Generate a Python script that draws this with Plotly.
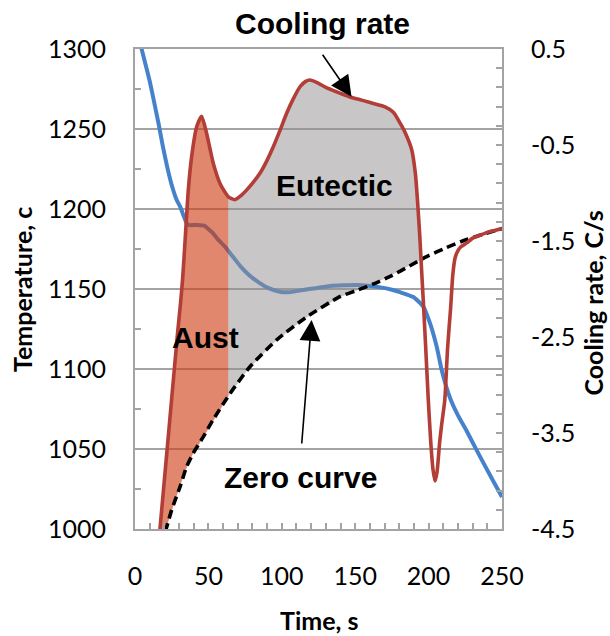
import numpy as np
import plotly.graph_objects as go

# ---------------- data ----------------
# Temperature curve (left axis, deg C)
temp_time = [3.5, 4.5, 7, 10, 13, 16, 19, 22, 25, 28.4, 31, 33, 35, 36.5, 42, 47.5, 50, 53,
             56, 61.3, 66, 72, 78, 85, 91, 98.5, 105, 114.4, 123, 132.9, 142, 151.4, 159,
             167.3, 175, 180.5, 189.6, 196.4, 201, 205.5, 209, 212, 215, 220, 225.5, 232,
             238.7, 244, 250]
temp_val = [1304, 1300, 1291, 1280, 1267, 1253.6, 1239, 1226, 1215, 1205.6, 1201, 1196,
            1191.5, 1190, 1190, 1189.5, 1187.5, 1185, 1181.5, 1176.5, 1171, 1164, 1158.5,
            1153.7, 1150.5, 1148.3, 1148, 1149.4, 1150.5, 1151.9, 1152.3, 1152.5, 1152,
            1151, 1149.5, 1148, 1145, 1139, 1128.5, 1114, 1099, 1089, 1081, 1071, 1062,
            1050.5, 1039, 1030, 1020]

# Cooling rate curve (right axis, C/s)
rate_time = [16.5, 17, 21, 25, 29, 31, 32.5, 34.1, 36.3, 38.6, 42, 45.4, 48.8, 53.3, 57.9,
             63.6, 68.1, 72, 76, 80.5, 85.1, 89.6, 94.2, 98.7, 103.3, 107.8, 112.4, 116,
             119.2, 124, 130, 138, 146, 155, 163, 170, 176, 180.5, 184, 188.5, 191, 192.4,
             194, 195.1, 196.3, 198, 199.8, 201.5, 203, 204.4, 205.8, 207.5, 209, 211, 213,
             215, 216.5, 218, 220, 222, 226, 230, 235, 240, 245, 250]
rate_val = [-4.58, -4.5, -3.82, -3.14, -2.46, -2.15, -1.88, -1.5, -0.97, -0.62, -0.31, -0.2,
            -0.38, -0.69, -0.9, -1.04, -1.07, -1.03, -0.97, -0.89, -0.795, -0.67, -0.518,
            -0.35, -0.17, -0.02, 0.107, 0.16, 0.177, 0.15, 0.1, 0.05, 0.003, -0.035, -0.07,
            -0.1, -0.16, -0.27, -0.37, -0.55, -0.8, -1.07, -1.45, -1.77, -2.1, -2.6, -3.16,
            -3.6, -3.88, -4.0, -3.9, -3.6, -3.4, -3.16, -2.6, -2.2, -1.85, -1.68, -1.6,
            -1.56, -1.52, -1.47, -1.44, -1.41, -1.39, -1.37]

# Zero curve (right axis, C/s)
zero_time = [20.5, 21.6, 25, 30.7, 35.2, 39.7, 46.5, 53.3, 64.7, 78.3, 96.5, 117, 139.6,
             150, 162, 175, 187, 199, 212, 225, 237, 250]
zero_val = [-4.53, -4.48, -4.3, -4.06, -3.85, -3.71, -3.54, -3.36, -3.09, -2.81, -2.53,
            -2.29, -2.08, -2.02, -1.95, -1.86, -1.76, -1.66, -1.57, -1.49, -1.43, -1.37]

# axis ticks
temp_ticks = [1000, 1050, 1100, 1150, 1200, 1250, 1300]
rate_ticks = [-4.5, -3.5, -2.5, -1.5, -0.5, 0.5]
rate_tick_text = ["-4.5", "-3.5", "-2.5", "-1.5", "-0.5", "0.5"]
time_ticks = [0, 50, 100, 150, 200, 250]

# region limits (s)
aust_start, aust_end = 17, 63.6
eut_start, eut_end = 63.6, 195.0

# ---------------- fill polygons derived from the curves ----------------
def region(t0, t1):
    g = np.linspace(t0, t1, 300)
    up = np.interp(g, rate_time, rate_val)
    lo = np.minimum(np.interp(g, zero_time, zero_val), up)
    return list(g) + list(g[::-1]), list(up) + list(lo[::-1])

ax_x, ax_y = region(aust_start, aust_end)
eu_x, eu_y = region(eut_start, eut_end)

fig = go.Figure()

fig.add_trace(go.Scatter(x=temp_time, y=temp_val, mode="lines", yaxis="y",
                         line=dict(color="#4682CC", width=4, shape="spline",
                                   smoothing=0.5),
                         showlegend=False))
fig.add_trace(go.Scatter(x=eu_x, y=eu_y, mode="lines", yaxis="y2", fill="toself",
                         fillcolor="rgba(146,142,142,0.5)", line=dict(width=0),
                         showlegend=False))
fig.add_trace(go.Scatter(x=ax_x, y=ax_y, mode="lines", yaxis="y2", fill="toself",
                         fillcolor="rgba(205,62,21,0.62)", line=dict(width=0),
                         showlegend=False))
fig.add_trace(go.Scatter(x=zero_time, y=zero_val, mode="lines", yaxis="y2",
                         line=dict(color="black", width=3.6, dash="9px,5px", shape="spline",
                                   smoothing=0.6),
                         showlegend=False))
fig.add_trace(go.Scatter(x=rate_time, y=rate_val, mode="lines", yaxis="y2",
                         line=dict(color="#B33D37", width=3.6, shape="spline",
                                   smoothing=0.6),
                         showlegend=False))

tick_font = dict(family="Lato", size=25, color="black")
grid_col = "#A3A3A3"

fig.update_layout(
    width=610, height=636,
    margin=dict(l=135, r=108, t=49, b=107),
    paper_bgcolor="white", plot_bgcolor="white",
    xaxis=dict(range=[0, 250], tickmode="array", tickvals=time_ticks,
               ticks="inside", ticklen=6, tickcolor=grid_col, tickwidth=2,
               minor=dict(dtick=10, tick0=0, ticks="inside", ticklen=6,
                          tickcolor=grid_col, tickwidth=2),
               showline=True, linecolor=grid_col, linewidth=2, mirror=True,
               showgrid=False, zeroline=False, tickfont=tick_font,
               ticklabelstandoff=24),
    yaxis=dict(range=[1000, 1300], tickmode="array", tickvals=temp_ticks,
               ticks="inside", ticklen=6, tickcolor=grid_col, tickwidth=2,
               minor=dict(dtick=25, tick0=1000, ticks="inside", ticklen=6,
                          tickcolor=grid_col, tickwidth=2),
               showline=True, linecolor=grid_col, linewidth=2,
               showgrid=True, gridcolor=grid_col, gridwidth=2,
               zeroline=False, tickfont=tick_font, ticklabelstandoff=22),
    yaxis2=dict(range=[-4.5, 0.5], overlaying="y", side="right",
                tickmode="array", tickvals=rate_ticks, ticktext=rate_tick_text,
                ticks="inside", ticklen=6, tickcolor=grid_col, tickwidth=2,
                minor=dict(dtick=0.2, tick0=-4.5, ticks="inside", ticklen=6,
                           tickcolor=grid_col, tickwidth=2),
                showline=True, linecolor=grid_col, linewidth=2,
                showgrid=False, zeroline=False, tickfont=tick_font,
                ticklabelstandoff=22),
)

lab_font = dict(family="Liberation Sans", size=30, color="black")
title_font = dict(family="Lato", size=25, color="black")

annotations = [
    dict(text="<b>Cooling rate</b>", xref="paper", yref="paper", x=0.511, y=1.054,
         xanchor="center", yanchor="middle", showarrow=False, font=lab_font),
    dict(text="<b>Eutectic</b>", xref="x", yref="y", x=135.6, y=1215,
         xanchor="center", yanchor="middle", showarrow=False, font=lab_font),
    dict(text="<b>Aust</b>", xref="x", yref="y", x=47.7, y=1119.7,
         xanchor="center", yanchor="middle", showarrow=False, font=lab_font),
    dict(text="<b>Zero curve</b>", xref="x", yref="y", x=112.4, y=1032.5,
         xanchor="center", yanchor="middle", showarrow=False, font=lab_font),
    # arrows
    dict(text="", xref="x", yref="y2", x=147.5, y=0.003, axref="x", ayref="y2",
         ax=127.1, ay=0.455, showarrow=True, arrowhead=2, arrowsize=2.6,
         arrowwidth=1.6, arrowcolor="black", standoff=0),
    dict(text="", xref="x", yref="y", x=120.3, y=1130.6, axref="x", ayref="y",
         ax=113.5, ay=1052.5, showarrow=True, arrowhead=2, arrowsize=2.6,
         arrowwidth=1.6, arrowcolor="black", standoff=0),
    # axis titles
    dict(text="<b>Time, s</b>", xref="paper", yref="paper", x=0.5, y=-0.19,
         xanchor="center", yanchor="middle", showarrow=False, font=title_font),
    dict(text="<b>Temperature, c</b>", xref="paper", yref="paper", x=-0.308, y=0.5,
         xanchor="center", yanchor="middle", showarrow=False, font=title_font,
         textangle=-90),
    dict(text="<b>Cooling rate, C/s</b>", xref="paper", yref="paper", x=1.247, y=0.471,
         xanchor="center", yanchor="middle", showarrow=False, font=title_font,
         textangle=-90),
]
fig.update_layout(annotations=annotations)

fig.write_html("out.html")
